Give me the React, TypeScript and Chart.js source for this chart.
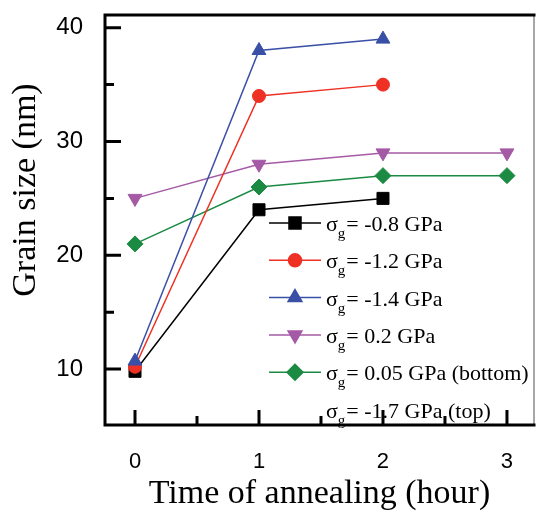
import React, { useEffect, useRef } from 'react';
import { Chart, registerables } from 'chart.js';
import { drawPoint } from 'chart.js/helpers';

Chart.register(...registerables);

// ---- data ----
const hours = [0, 1, 2, 3];
const sizeM08 = [9.8, 24, 25];
const sizeM12 = [10.2, 34, 35];
const sizeM14 = [10.7, 38, 39];
const sizeP02 = [25, 28, 29, 29];
const sizeP005 = [21, 26, 27, 27];
const legendLabels = ['= -0.8 GPa', '= -1.2 GPa', '= -1.4 GPa', '= 0.2 GPa', '= 0.05 GPa (bottom)', '= -1.7 GPa (top)'];
const yMajorTicks = [10, 20, 30, 40];
const yMinorTicks = [15, 25, 35];
const xMajorTicks = [0, 1, 2, 3];
const xMinorTicks = [0.5, 1.5, 2.5];
const xTitle = 'Time of annealing (hour)';
const yTitle = 'Grain size (nm)';

const COLORS = ['#000000', '#ee3124', '#3a50a6', '#a55aa6', '#1b8b43'];
const STYLES: any[] = [
  { pointStyle: 'rect', radius: 8.5, rotation: 0 },
  { pointStyle: 'circle', radius: 6.5, rotation: 0 },
  { pointStyle: 'triangle', radius: 8, rotation: 0 },
  { pointStyle: 'triangle', radius: 8, rotation: 180 },
  { pointStyle: 'rectRot', radius: 8, rotation: 0 },
];
const ORDERS = [2, 1, 0, 3, 4];

const series = [sizeM08, sizeM12, sizeM14, sizeP02, sizeP005];

const SERIF = 'Liberation Serif';
const SANS = 'Liberation Sans';

const zeroPad = (s: any) => {
  s.paddingTop = 0;
  s.paddingBottom = 0;
  s.paddingLeft = 0;
  s.paddingRight = 0;
};

const framePlugin = {
  id: 'frame',
  afterDraw(chart: any) {
    const ctx = chart.ctx;
    const { left, right, top, bottom } = chart.chartArea;
    const xs = chart.scales.x;
    const ys = chart.scales.y;
    ctx.save();
    // right border (thin)
    ctx.strokeStyle = '#8a8a8a';
    ctx.lineWidth = 1.5;
    ctx.beginPath();
    ctx.moveTo(right, top);
    ctx.lineTo(right, bottom);
    ctx.stroke();
    // thick frame lines
    ctx.strokeStyle = '#000';
    ctx.lineWidth = 3;
    ctx.lineCap = 'square';
    ctx.beginPath();
    ctx.moveTo(right, top);
    ctx.lineTo(left, top);
    ctx.lineTo(left, bottom);
    ctx.lineTo(right, bottom);
    ctx.stroke();
    ctx.lineCap = 'butt';
    // inward ticks
    ctx.beginPath();
    yMajorTicks.forEach((v) => {
      const p = ys.getPixelForValue(v);
      ctx.moveTo(left, p);
      ctx.lineTo(left + 16, p);
    });
    yMinorTicks.forEach((v) => {
      const p = ys.getPixelForValue(v);
      ctx.moveTo(left, p);
      ctx.lineTo(left + 9, p);
    });
    xMajorTicks.forEach((v) => {
      const p = xs.getPixelForValue(v);
      ctx.moveTo(p, bottom);
      ctx.lineTo(p, bottom - 15);
    });
    xMinorTicks.forEach((v) => {
      const p = xs.getPixelForValue(v);
      ctx.moveTo(p, bottom);
      ctx.lineTo(p, bottom - 9);
    });
    ctx.stroke();

    // axis titles
    ctx.fillStyle = '#000';
    ctx.font = `34px "${SERIF}"`;
    ctx.textAlign = 'center';
    ctx.textBaseline = 'alphabetic';
    ctx.fillText(xTitle, (left + right) / 2, 503);
    ctx.save();
    ctx.translate(35, 190);
    ctx.rotate(-Math.PI / 2);
    ctx.fillText(yTitle, 0, 0);
    ctx.restore();

    // legend
    const lineX0 = 269;
    const lineX1 = 321;
    const markX = 295;
    const textX = 326;
    const rowY0 = 223;
    const rowGap = 37.3;
    ctx.textAlign = 'left';
    legendLabels.forEach((label, i) => {
      const y = rowY0 + i * rowGap;
      if (i < series.length) {
        ctx.strokeStyle = COLORS[i];
        ctx.fillStyle = COLORS[i];
        ctx.lineWidth = 1.5;
        ctx.beginPath();
        ctx.moveTo(lineX0, y);
        ctx.lineTo(lineX1, y);
        ctx.stroke();
        drawPoint(ctx, { ...STYLES[i], borderWidth: 1 }, markX, y);
      }
      ctx.fillStyle = '#000';
      const base = y + 8;
      ctx.font = `22px "${SERIF}"`;
      ctx.fillText('σ', textX, base);
      const w1 = ctx.measureText('σ').width;
      ctx.font = `15px "${SERIF}"`;
      ctx.fillText('g', textX + w1, base + 7);
      const w2 = ctx.measureText('g').width;
      ctx.font = `22px "${SERIF}"`;
      ctx.fillText(label, textX + w1 + w2 + 1, base);
    });
    ctx.restore();
  },
};

export default function App() {
  const ref = useRef<HTMLCanvasElement>(null);
  useEffect(() => {
    const datasets = series.map((vals, i) => ({
      label: legendLabels[i],
      data: vals.map((v, j) => ({ x: hours[j], y: v })),
      borderColor: COLORS[i],
      backgroundColor: COLORS[i],
      borderWidth: 1.5,
      pointStyle: STYLES[i].pointStyle,
      pointRadius: STYLES[i].radius,
      pointRotation: STYLES[i].rotation,
      pointBorderWidth: 1,
      pointBackgroundColor: COLORS[i],
      pointBorderColor: COLORS[i],
      order: ORDERS[i],
      fill: false,
      tension: 0,
      clip: false,
    }));
    const chart = new Chart(ref.current as HTMLCanvasElement, {
      type: 'line',
      data: { datasets },
      options: {
        animation: false,
        responsive: false,
        devicePixelRatio: 1,
        layout: { autoPadding: false, padding: { top: 15, right: 2, left: 0, bottom: 0 } },
        plugins: { legend: { display: false }, tooltip: { enabled: false } },
        scales: {
          x: {
            type: 'linear',
            min: -0.242,
            max: 3.218,
            grid: { display: false, drawTicks: false },
            border: { display: false },
            afterBuildTicks: (s: any) => {
              s.ticks = xMajorTicks.map((v) => ({ value: v }));
            },
            afterFit: (s: any) => {
              s.height = 92;
              zeroPad(s);
            },
            ticks: {
              padding: 4,
              color: '#000',
              maxRotation: 0,
              font: { family: SANS, size: 22, lineHeight: 3 },
            },
          },
          y: {
            type: 'linear',
            min: 5.08,
            max: 41.12,
            grid: { display: false, drawTicks: false },
            border: { display: false },
            afterBuildTicks: (s: any) => {
              s.ticks = yMajorTicks.map((v) => ({ value: v }));
            },
            afterFit: (s: any) => {
              s.width = 105;
              zeroPad(s);
            },
            ticks: {
              padding: 22,
              color: '#000',
              font: { family: SANS, size: 24 },
            },
          },
        },
      },
      plugins: [framePlugin],
    } as any);
    return () => chart.destroy();
  }, []);
  return (
    <div style={{ position: 'fixed', left: 0, top: 0, width: 536, height: 517, background: '#fff' }}>
      <canvas ref={ref} width={536} height={517} style={{ display: 'block', width: 536, height: 517 }} />
    </div>
  );
}
